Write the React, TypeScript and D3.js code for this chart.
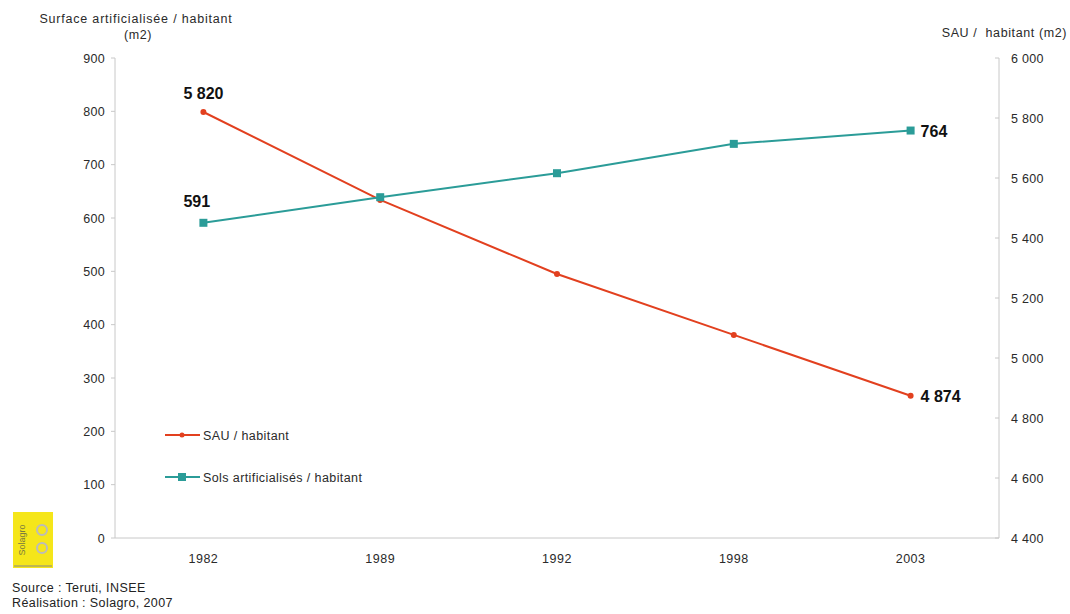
import React from "react";
import * as d3 from "d3";

const years = ["1982", "1989", "1992", "1998", "2003"];
const sauValues = [5820, 5527, 5280, 5077, 4874];
const solsValues = [591, 639, 684, 739, 764];
const leftTicks = [0, 100, 200, 300, 400, 500, 600, 700, 800, 900];
const rightTicks = [4400, 4600, 4800, 5000, 5200, 5400, 5600, 5800, 6000];
const seriesNames = ["SAU / habitant", "Sols artificialisés / habitant"];

const W = 1070, H = 614;
const left = 115, right = 999, top = 58, bottom = 538;
const RED = "#e2401f";
const TEAL = "#2b9c98";
const AXIS = "#c8c8c8";
const TXT = "#2a2a2a";
const FONT = "'Liberation Sans', Arial, sans-serif";

const fmt = (v: number) => {
  const s = String(v);
  return s.length > 3 ? s.slice(0, s.length - 3) + " " + s.slice(-3) : s;
};

export default function App() {
  const x = d3.scaleBand<string>().domain(years).range([left, right]);
  const cx = (y: string) => (x(y) as number) + x.bandwidth() / 2;
  const yL = d3.scaleLinear().domain([0, 900]).range([bottom, top]);
  const yR = d3.scaleLinear().domain([4400, 6000]).range([bottom, top]);

  const lineSau = d3.line<number>().x((_, i) => cx(years[i])).y((d) => yR(d));
  const lineSols = d3.line<number>().x((_, i) => cx(years[i])).y((d) => yL(d));

  return (
    <svg width={W} height={H} style={{ position: "absolute", left: 0, top: 0, background: "#fff" }} fontFamily={FONT}>
      {/* axis titles */}
      <text x={136} y={23} fontSize={12.5} letterSpacing={0.8} fill={TXT} textAnchor="middle">Surface artificialisée / habitant</text>
      <text x={138} y={39} fontSize={12.5} letterSpacing={0.6} fill={TXT} textAnchor="middle">(m2)</text>
      <text x={1067} y={37} fontSize={12.5} letterSpacing={0.6} fill={TXT} textAnchor="end" style={{ whiteSpace: "pre" }}>SAU /  habitant (m2)</text>

      {/* axes */}
      <line x1={left} x2={left} y1={top} y2={bottom} stroke={AXIS} />
      <line x1={right} x2={right} y1={top} y2={bottom} stroke={AXIS} />
      <line x1={left} x2={right} y1={bottom} y2={bottom} stroke={AXIS} />
      {leftTicks.map((t) => (
        <g key={"l" + t}>
          <line x1={left - 4} x2={left} y1={yL(t)} y2={yL(t)} stroke={AXIS} />
          <text x={left - 10} y={yL(t) + 4.5} fontSize={12.5} letterSpacing={0.3} fill={TXT} textAnchor="end">{t}</text>
        </g>
      ))}
      {rightTicks.map((t) => (
        <g key={"r" + t}>
          <line x1={right - 4} x2={right} y1={yR(t)} y2={yR(t)} stroke={AXIS} />
          <text x={right + 12} y={yR(t) + 4.5} fontSize={12.5} letterSpacing={0.3} fill={TXT} textAnchor="start">{fmt(t)}</text>
        </g>
      ))}
      {years.map((yv) => (
        <text key={yv} x={cx(yv)} y={563} fontSize={12.5} letterSpacing={0.5} fill={TXT} textAnchor="middle">{yv}</text>
      ))}

      {/* lines */}
      <path d={lineSau(sauValues) || ""} fill="none" stroke={RED} strokeWidth={2} />
      <path d={lineSols(solsValues) || ""} fill="none" stroke={TEAL} strokeWidth={2} />
      {sauValues.map((v, i) => (
        <circle key={"s" + i} cx={cx(years[i])} cy={yR(v)} r={3} fill={RED} />
      ))}
      {solsValues.map((v, i) => (
        <rect key={"q" + i} x={cx(years[i]) - 4} y={yL(v) - 4} width={8} height={8} fill={TEAL} />
      ))}

      {/* data labels */}
      <text x={cx(years[0]) - 20} y={yR(sauValues[0]) - 13} fontSize={16} fontWeight="bold" fill="#111">{fmt(sauValues[0])}</text>
      <text x={cx(years[0]) - 20} y={yL(solsValues[0]) - 16} fontSize={16} fontWeight="bold" fill="#111">{solsValues[0]}</text>
      <text x={cx(years[4]) + 10} y={yL(solsValues[4]) + 6} fontSize={16} fontWeight="bold" fill="#111">{solsValues[4]}</text>
      <text x={cx(years[4]) + 10} y={yR(sauValues[4]) + 6} fontSize={16} fontWeight="bold" fill="#111">{fmt(sauValues[4])}</text>

      {/* legend */}
      <line x1={165} x2={200} y1={435} y2={435} stroke={RED} strokeWidth={2} />
      <circle cx={182} cy={435} r={2.5} fill={RED} />
      <text x={203} y={440} fontSize={12.5} letterSpacing={0.4} fill={TXT}>{seriesNames[0]}</text>
      <line x1={165} x2={200} y1={477} y2={477} stroke={TEAL} strokeWidth={2} />
      <rect x={178} y={473} width={8} height={8} fill={TEAL} />
      <text x={203} y={482} fontSize={12.5} letterSpacing={0.4} fill={TXT}>{seriesNames[1]}</text>

      {/* logo */}
      <rect x={13} y={512} width={40} height={56} fill="#f5e61a" />
      <text transform="translate(25,540) rotate(-90)" fontSize={9} fill="#7a7a40" textAnchor="middle">Solagro</text>
      <circle cx={42} cy={530} r={5} fill="none" stroke="#bbb" strokeWidth={2} />
      <circle cx={42} cy={548} r={5} fill="none" stroke="#bbb" strokeWidth={2} />
      <line x1={14} x2={52} y1={566} y2={566} stroke="#888" strokeWidth={1} />

      {/* source */}
      <text x={12} y={592} fontSize={12.5} letterSpacing={0.4} fill="#222">Source : Teruti, INSEE</text>
      <text x={12} y={607} fontSize={12.5} letterSpacing={0.4} fill="#222">Réalisation : Solagro, 2007</text>
    </svg>
  );
}
